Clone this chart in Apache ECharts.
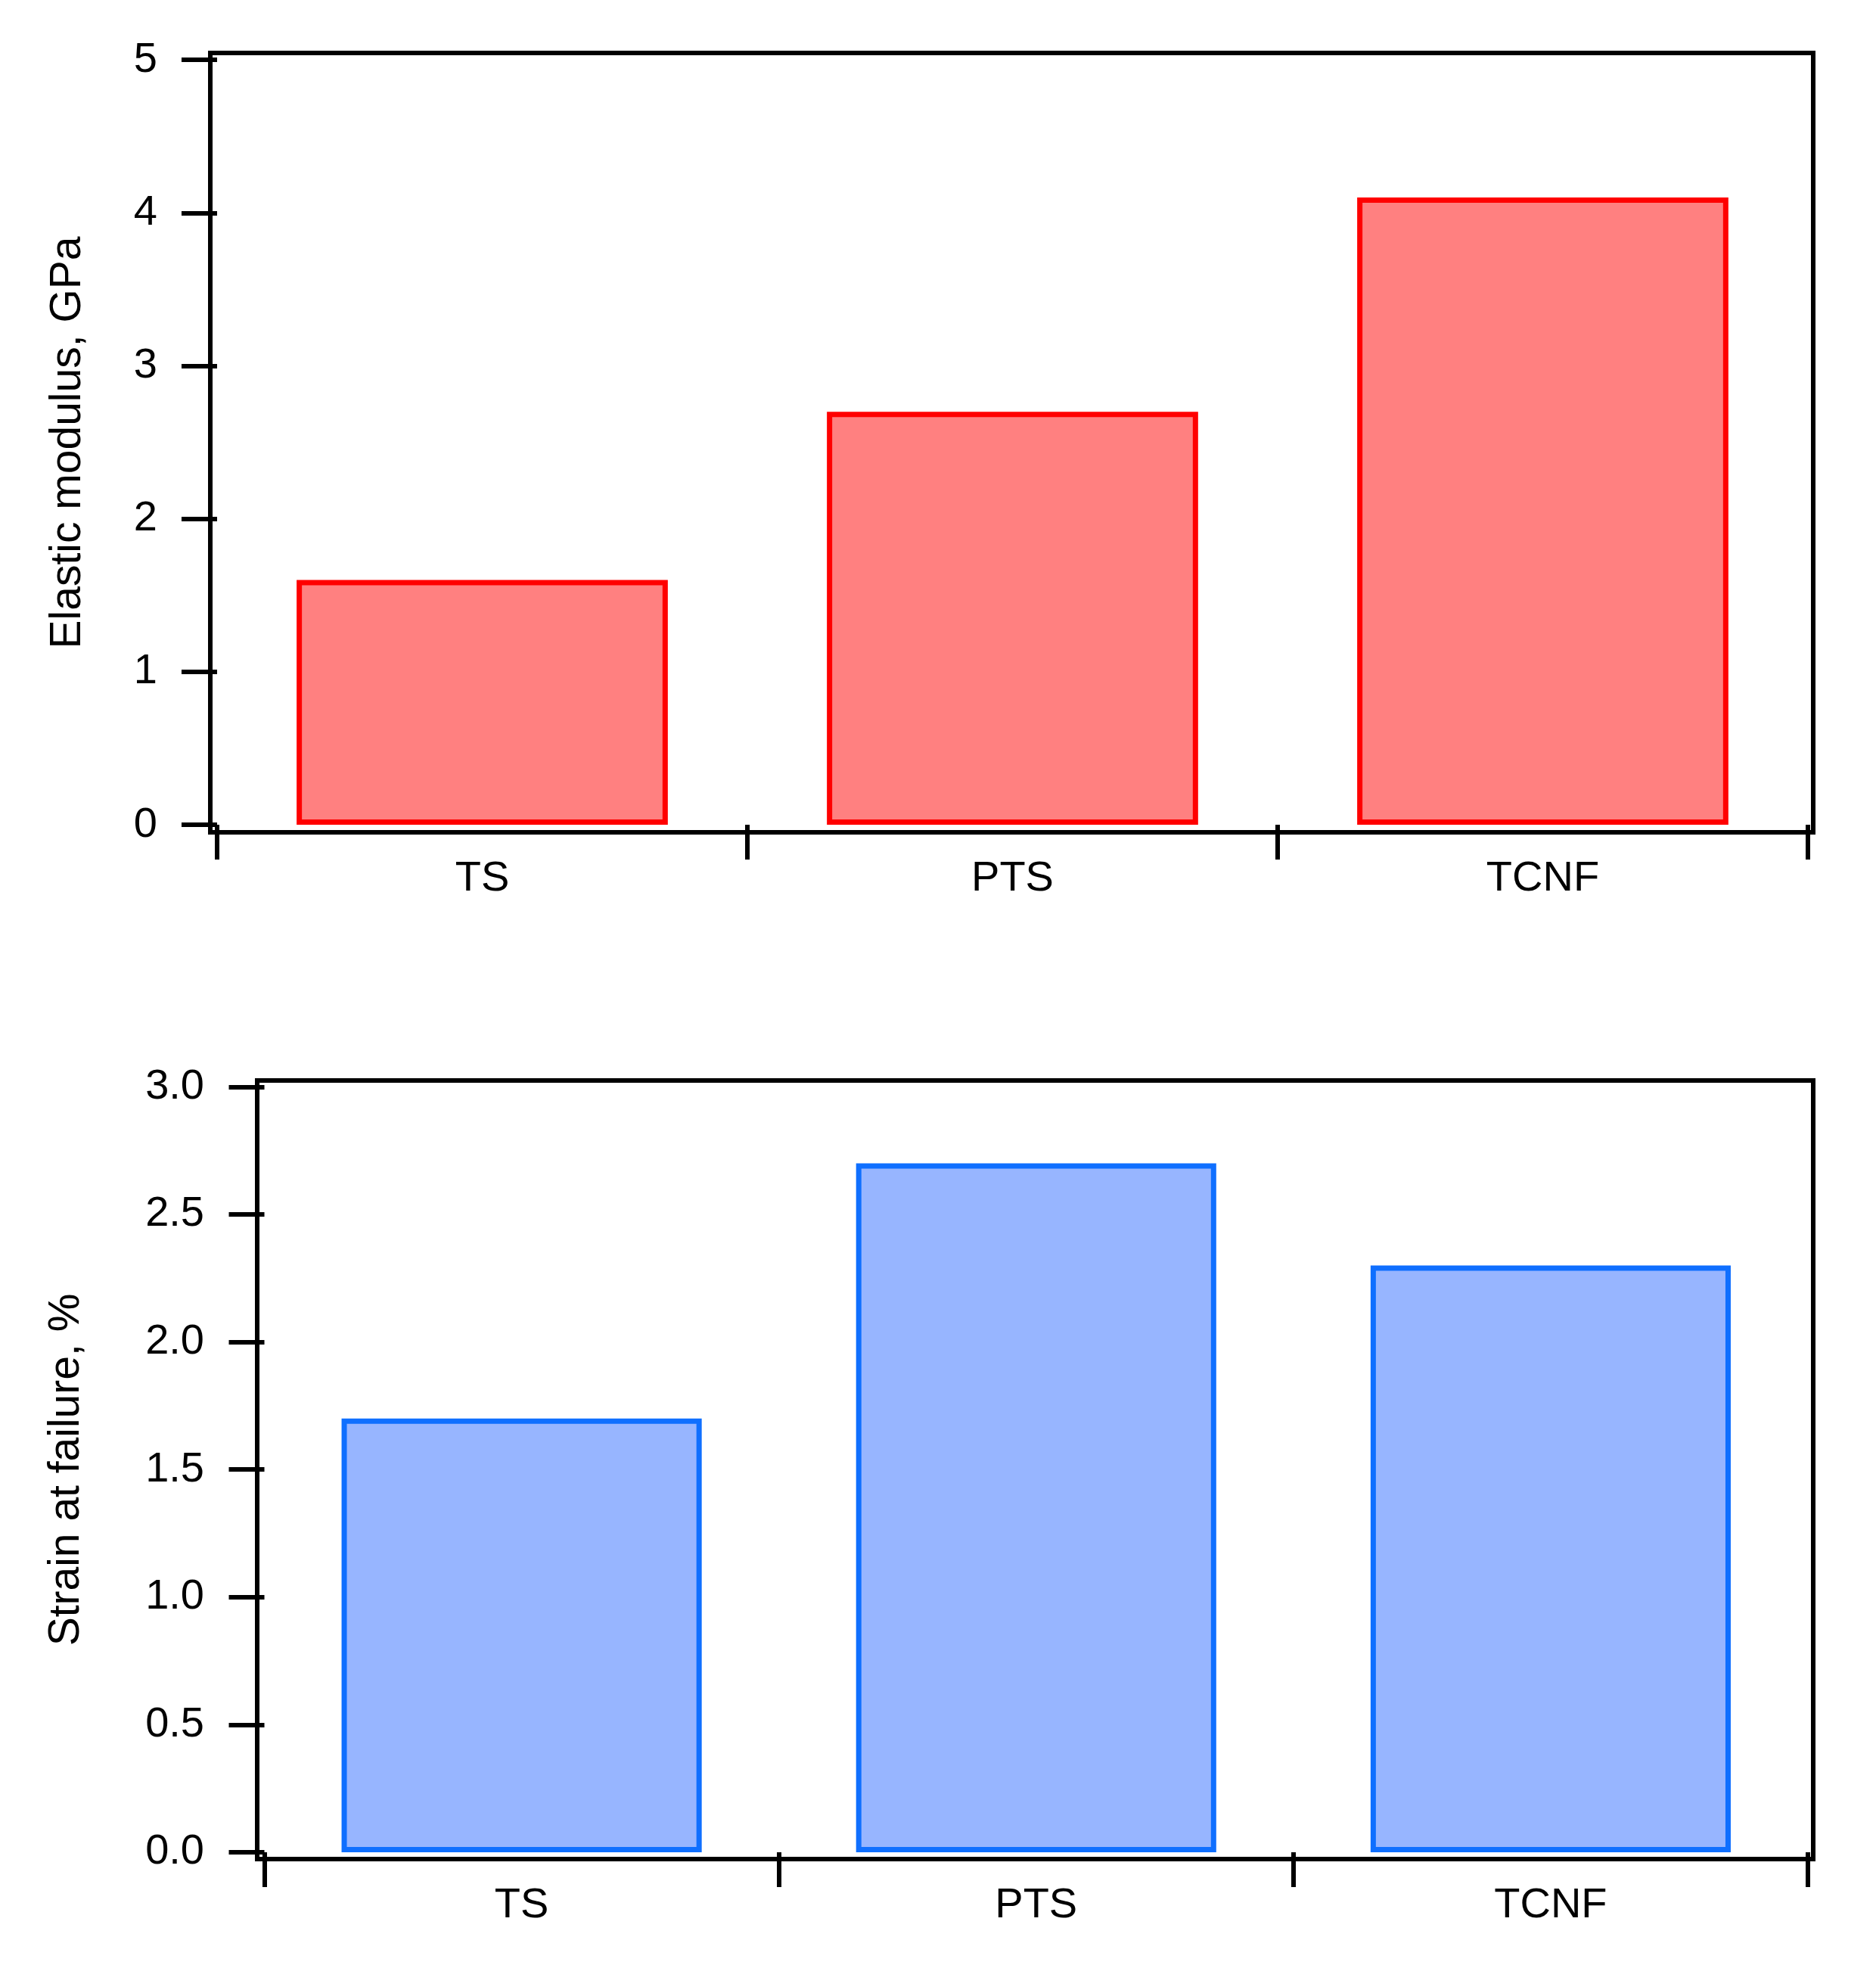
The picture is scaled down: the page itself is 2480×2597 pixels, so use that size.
<!DOCTYPE html>
<html>
<head>
<meta charset="utf-8">
<script src="https://cdn.jsdelivr.net/npm/echarts@6/dist/echarts.min.js"></script>
<style>
html,body{margin:0;padding:0;background:#fff;}
#chart{width:2480px;height:2597px;}
</style>
</head>
<body>
<div id="chart"></div>
<script>
const categories = ['TS', 'PTS', 'TCNF'];
const modulusValues = [1.60, 2.70, 4.10];
const strainValues = [1.70, 2.70, 2.30];
const modulusTicks = [0, 1, 2, 3, 4, 5];
const strainTicks = [0, 0.5, 1, 1.5, 2, 2.5, 3];
const categoryEdges = [0, 1, 2, 3];
const categoryCenters = [0.5, 1.5, 2.5];

const FONT = 'Liberation Sans';
const LW = 6;

function xAxisCfg(gridIndex, min, max) {
  return {
    type: 'value', gridIndex: gridIndex, min: min, max: max,
    splitLine: { show: false },
    axisLine: { show: false },
    axisTick: { show: true, customValues: categoryEdges, length: 46, lineStyle: { color: '#000', width: LW } },
    axisLabel: {
      customValues: categoryCenters, margin: 34, color: '#000', fontSize: 56, fontFamily: FONT,
      formatter: function (v) { return categories[Math.floor(v)]; }
    }
  };
}
function yAxisCfg(gridIndex, min, max, ticks, name, nameGap, decimals) {
  return {
    type: 'value', gridIndex: gridIndex, min: min, max: max,
    name: name, nameLocation: 'middle', nameGap: nameGap,
    nameTextStyle: { color: '#000', fontSize: 57, fontFamily: FONT },
    splitLine: { show: false },
    axisLine: { show: false },
    axisTick: { show: true, customValues: ticks, length: 47, lineStyle: { color: '#000', width: LW } },
    axisLabel: {
      customValues: ticks, margin: 70, color: '#000', fontSize: 56, fontFamily: FONT,
      formatter: function (v) { return v.toFixed(decimals); }
    }
  };
}

const chart = echarts.init(document.getElementById('chart'), null, { renderer: 'canvas' });
chart.setOption({
  backgroundColor: '#fff',
  animation: false,
  grid: [
    { left: 278, right: 83, top: 70, bottom: 1497, show: true, borderColor: '#000', borderWidth: LW, backgroundColor: 'transparent' },
    { left: 340, right: 83, top: 1428, bottom: 140, show: true, borderColor: '#000', borderWidth: LW, backgroundColor: 'transparent' }
  ],
  xAxis: [
    xAxisCfg(0, -0.0128, 3.010),
    xAxisCfg(1, -0.014, 3.0103)
  ],
  yAxis: [
    yAxisCfg(0, -0.049, 5.045, modulusTicks, 'Elastic modulus, GPa', 159, 0),
    yAxisCfg(1, -0.027, 3.025, strainTicks, 'Strain at failure, %', 223, 1)
  ],
  series: [
    {
      type: 'bar', xAxisIndex: 0, yAxisIndex: 0, barWidth: '70%',
      data: modulusValues.map(function (v, i) { return [categoryCenters[i], v]; }),
      itemStyle: { color: '#FF8080', borderColor: '#FF0000', borderWidth: 7 }
    },
    {
      type: 'bar', xAxisIndex: 1, yAxisIndex: 1, barWidth: '70%',
      data: strainValues.map(function (v, i) { return [categoryCenters[i], v]; }),
      itemStyle: { color: '#97B5FF', borderColor: '#0F6FFF', borderWidth: 7 }
    }
  ]
});
</script>
</body>
</html>
